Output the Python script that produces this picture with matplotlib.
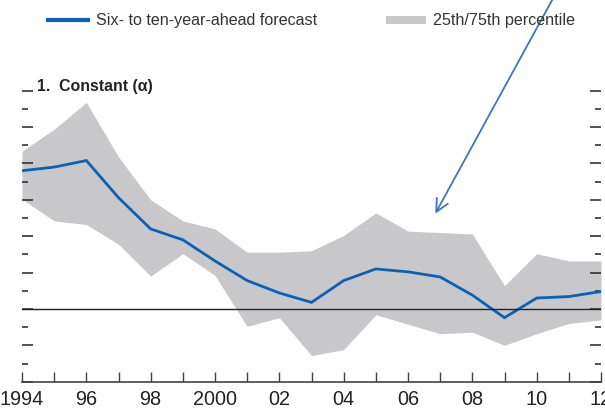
import matplotlib
matplotlib.use("Agg")
import matplotlib.pyplot as plt
from matplotlib.ticker import MultipleLocator
from matplotlib.patches import FancyArrowPatch, Rectangle

plt.rcParams["font.family"] = ["Liberation Sans Narrow", "Liberation Sans", "DejaVu Sans"]

years = list(range(1994, 2013))
forecast = [1.90, 1.95, 2.04, 1.53, 1.10, 0.95, 0.66, 0.39, 0.22, 0.09,
            0.39, 0.55, 0.51, 0.44, 0.19, -0.12, 0.15, 0.17, 0.24]
upper = [2.17, 2.47, 2.84, 2.09, 1.50, 1.21, 1.10, 0.78, 0.78, 0.80,
         1.01, 1.32, 1.07, 1.05, 1.03, 0.32, 0.76, 0.66, 0.66]
lower = [1.51, 1.21, 1.16, 0.89, 0.45, 0.76, 0.46, -0.24, -0.12, -0.64,
         -0.56, -0.08, -0.21, -0.34, -0.32, -0.50, -0.34, -0.20, -0.15]
tick_years = list(range(1994, 2013, 2))
tick_labels = ["1994", "96", "98", "2000", "02", "04", "06", "08", "10", "12"]

W, H = 605, 410
fig = plt.figure(figsize=(W / 100, H / 100), dpi=100)
ax = fig.add_axes([22 / W, 27.3 / H, 579 / W, 291 / H])

blue = "#0b61b5"
band = "#c8c8ca"

ax.fill_between(years, lower, upper, color=band, lw=0)
ax.plot(years, forecast, color=blue, lw=2.0, solid_joinstyle="miter")
ax.axhline(0, color="#222222", lw=1.0)

ax.set_xlim(1994, 2012)
ax.set_ylim(-1.0, 3.0)

for s in ["left", "right", "top"]:
    ax.spines[s].set_visible(False)
ax.spines["bottom"].set_color("#444444")
ax.spines["bottom"].set_linewidth(1.2)

ax.set_xticks(tick_years)
ax.set_xticklabels(tick_labels)
ax.xaxis.set_minor_locator(MultipleLocator(1))
ax.tick_params(axis="x", which="both", direction="in", length=7, width=1,
               color="#444444", labelsize=14.3, pad=5, labelcolor="#222222")

ax.yaxis.set_major_locator(MultipleLocator(0.5))
ax.yaxis.set_minor_locator(MultipleLocator(0.25))
ax.tick_params(axis="y", which="both", direction="in", left=True, right=True,
               labelleft=False, color="#333333", width=1.2)
ax.tick_params(axis="y", which="major", length=8)
ax.tick_params(axis="y", which="minor", length=4)

fig.text(37 / W, 1 - 87 / H, "1.  Constant (α)", fontsize=11.4, fontweight="bold",
         va="center", ha="left", color="#222222")

# legend
fig.add_artist(plt.Line2D([48 / W, 88 / W], [1 - 21 / H, 1 - 21 / H], color=blue, lw=3))
fig.text(96 / W, 1 - 20 / H, "Six- to ten-year-ahead forecast", fontsize=11.6,
         va="center", ha="left", color="#333333")
fig.add_artist(Rectangle((386 / W, 1 - 25 / H), 40 / W, 8 / H, color=band, lw=0))
fig.text(433 / W, 1 - 20 / H, "25th/75th percentile", fontsize=11.6,
         va="center", ha="left", color="#333333")

# hand-drawn arrow
fig.add_artist(FancyArrowPatch(
    (556 / W, 1 + 6 / H), (434 / W, 1 - 217 / H), transform=fig.transFigure,
    arrowstyle="->,head_length=9,head_width=4.5", color="#3f74c4", lw=1.3))

fig.savefig("out.png", dpi=100)
